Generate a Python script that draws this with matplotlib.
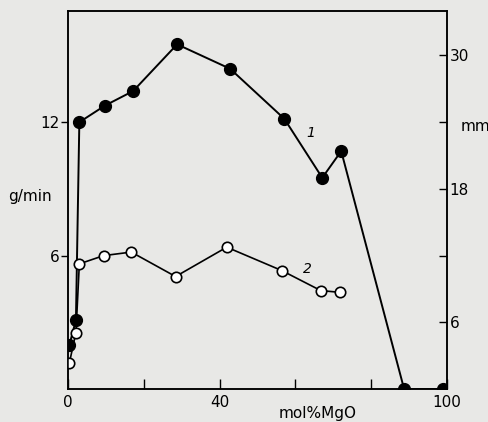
import matplotlib
matplotlib.use("Agg")
import matplotlib.pyplot as plt

# curve 1 (filled circles)
x1 = [0.4, 2.1, 3.0, 9.8, 17.2, 28.8, 42.8, 57.1, 67.1, 72.1, 88.7, 98.9]
y1 = [2.0, 3.1, 12.0, 12.75, 13.4, 15.5, 14.4, 12.15, 9.5, 10.7, 0.0, 0.0]
# curve 2 (open circles)
x2 = [0.35, 2.1, 3.0, 9.4, 16.7, 28.4, 41.9, 56.4, 66.7, 71.7]
y2 = [1.16, 2.54, 5.63, 6.0, 6.16, 5.06, 6.38, 5.33, 4.43, 4.35]

xticks = [0, 20, 40, 60, 80, 100]
xticklabels = ["0", "", "40", "", "", "100"]
left_ticks = [6, 12]
right_ticks = [6, 12, 18, 24, 30]
right_labels = ["6", "", "18", "", "30"]

bg = "#e8e8e6"
plt.rcParams["font.family"] = "DejaVu Sans"

fig = plt.figure(figsize=(4.89, 4.22), dpi=100, facecolor=bg)
ax = fig.add_axes([0.139, 0.078, 0.775, 0.896], facecolor=bg)

ax.plot(x1, y1, color="black", lw=1.4, marker="o", ms=8.5,
        mfc="black", mec="black", zorder=3)
ax.plot(x2, y2, color="black", lw=1.2, marker="o", ms=7.5,
        mfc="white", mec="black", mew=1.2, zorder=4)

ax.set_xlim(0, 100)
ax.set_ylim(0, 17)
ax.set_xticks(xticks)
ax.set_xticklabels(xticklabels, fontsize=11)
ax.set_yticks(left_ticks)
ax.set_yticklabels([str(t) for t in left_ticks], fontsize=11)
ax.tick_params(axis="x", direction="in", length=7, width=1, pad=4)
ax.tick_params(axis="y", direction="out", length=5, width=1, pad=1)
for s in ax.spines.values():
    s.set_linewidth(1.1)

ax2 = ax.twinx()
ax2.set_ylim(0, 34)
ax2.set_yticks(right_ticks)
ax2.set_yticklabels(right_labels, fontsize=11)
ax2.tick_params(axis="y", direction="in", length=6, width=1, pad=2)
for s in ax2.spines.values():
    s.set_linewidth(1.1)

fig.text(0.016, 0.535, "g/min", fontsize=11, va="center", ha="left")
fig.text(0.941, 0.700, "mm", fontsize=11, va="center", ha="left")
ax.text(55.5, -1.1, "mol%MgO", fontsize=11, va="center", ha="left")
ax.text(63, 11.5, "1", fontsize=10, style="italic", va="center")
ax.text(62, 5.4, "2", fontsize=10, style="italic", va="center")

fig.savefig("out.png", dpi=100, facecolor=bg)
